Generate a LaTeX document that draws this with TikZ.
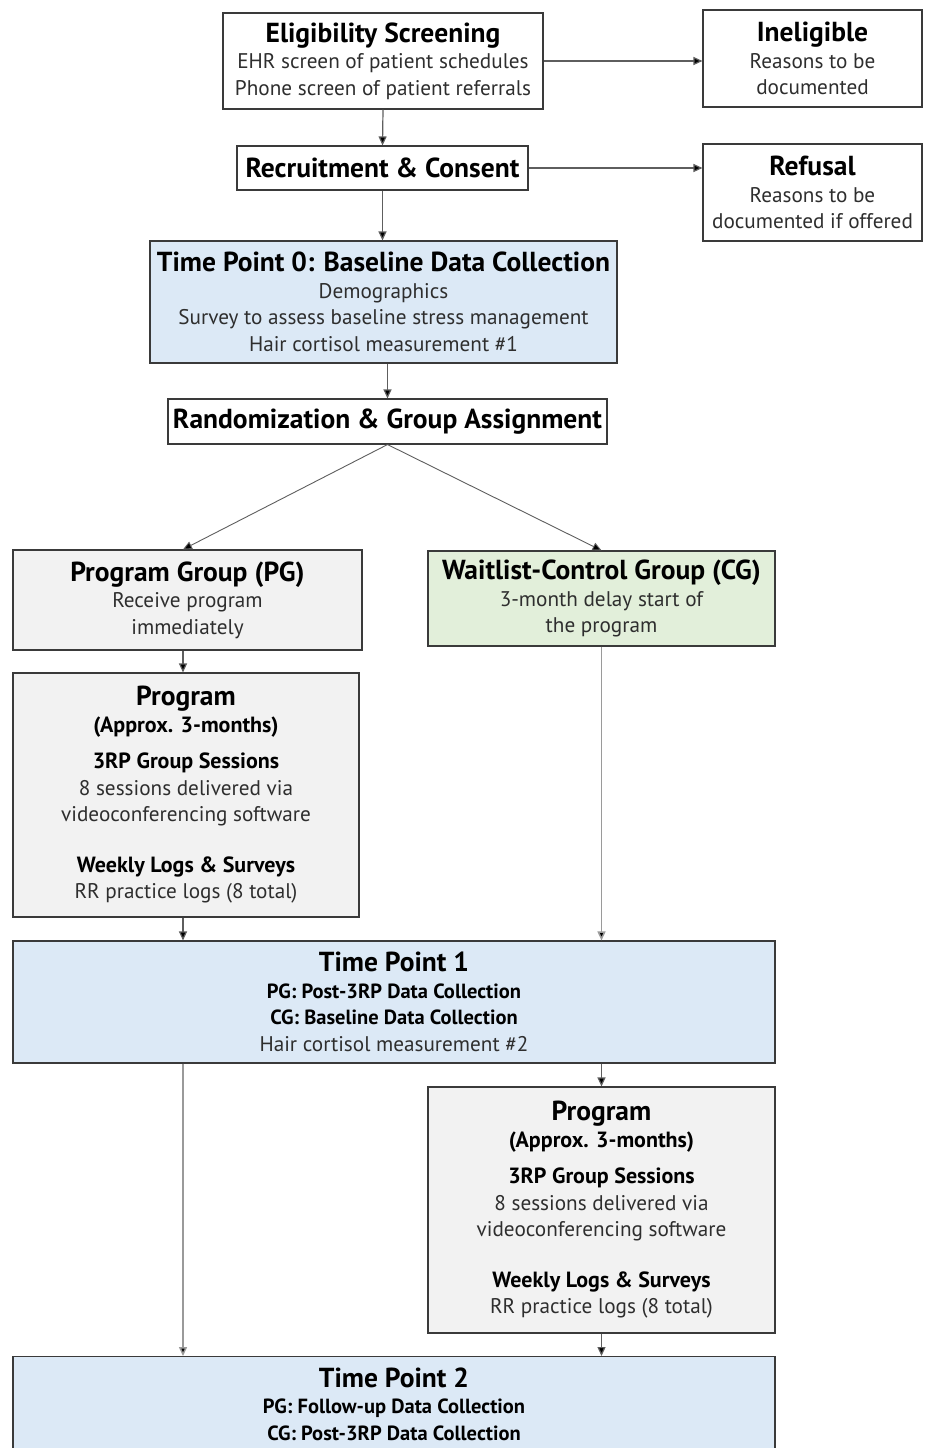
\documentclass[tikz,border=0pt]{standalone}
\usepackage{fontspec}
\setmainfont{PT Sans}
\usetikzlibrary{arrows.meta,calc}
\definecolor{bluefill}{HTML}{DCE9F6}
\definecolor{greyfill}{HTML}{F2F2F2}
\definecolor{greenfill}{HTML}{E2EFDA}
\definecolor{boxline}{HTML}{3A3A3A}
\definecolor{bodytext}{HTML}{2E2E2E}
\definecolor{lightline}{HTML}{9A9A9A}
\definecolor{midline}{HTML}{5E5E5E}
\newcommand{\ttl}[1]{{\fontsize{27.5}{27}\selectfont\bfseries\color{black}#1}}
\newcommand{\sub}[1]{{\fontsize{22}{27}\selectfont\bfseries\color{black}#1}}
\newcommand{\subn}[1]{{\fontsize{20.5}{27}\selectfont\bfseries\color{black}#1}}
\begin{document}
\begin{tikzpicture}[x=1pt,y=-1pt,
  box/.style={draw=boxline, line width=1.1pt, align=center, inner sep=0pt,
    font=\fontsize{21.2}{26.5}\selectfont\color{bodytext}},
  conn/.style={draw=midline, line width=1.2pt, -{Triangle[length=9pt,width=8pt,fill=black]}},
  lconn/.style={draw=lightline, line width=1.5pt, -{Triangle[length=9pt,width=8pt,fill=black]}},
  dline/.style={draw=midline, line width=0.9pt, -{Triangle[length=9pt,width=8pt,fill=black]}}]
\useasboundingbox (0,0) rectangle (924,1448);
\clip (0,0) rectangle (924,1448);
\fill[white] (0,0) rectangle (924,1448);

\node[box, minimum width=320pt, minimum height=96pt] (elig) at (383,61)
  {\ttl{Eligibility Screening}\\EHR screen of patient schedules\\Phone screen of patient referrals};
\node[box, minimum width=219pt, minimum height=97pt] (inel) at (812.5,58.5)
  {\ttl{Ineligible}\\Reasons to be\\documented};
\node[box, minimum width=291pt, minimum height=44pt] (recr) at (382.5,168)
  {\ttl{Recruitment \& Consent}};
\node[box, minimum width=219pt, minimum height=97pt] (refu) at (812.5,192.5)
  {\ttl{Refusal}\\Reasons to be\\documented if offered};
\node[box, fill=bluefill, minimum width=467pt, minimum height=122pt] (tp0) at (383.5,302)
  {\ttl{Time Point 0: Baseline Data Collection}\\Demographics\\Survey to assess baseline stress management\\Hair cortisol measurement \#1};
\node[box, minimum width=439pt, minimum height=45pt] (rand) at (387.5,421.5)
  {\ttl{Randomization \& Group Assignment}};
\node[box, fill=greyfill, minimum width=349pt, minimum height=100pt] (pg) at (187.5,600)
  {\ttl{Program Group (PG)}\\Receive program\\immediately};
\node[box, fill=greenfill, minimum width=347pt, minimum height=95pt] (cg) at (601.5,598.5)
  {\ttl{Waitlist-Control Group (CG)}\\3-month delay start of\\the program};
\node[box, fill=greyfill, minimum width=346pt, minimum height=244pt] (prog1) at (186,795)
  {\ttl{Program}\\\sub{(Approx. 3-months)}\\[10pt]\sub{3RP Group Sessions}\\8 sessions delivered via\\videoconferencing software\\[24pt]\sub{Weekly Logs \& Surveys}\\RR practice logs (8 total)};
\node[box, fill=bluefill, minimum width=762pt, minimum height=122pt] (tp1) at (394,1002)
  {\ttl{Time Point 1}\\\subn{PG: Post-3RP Data Collection}\\\subn{CG: Baseline Data Collection}\\Hair cortisol measurement \#2};
\node[box, fill=greyfill, minimum width=347pt, minimum height=246pt] (prog2) at (601.5,1210)
  {\ttl{Program}\\\sub{(Approx. 3-months)}\\[10pt]\sub{3RP Group Sessions}\\8 sessions delivered via\\videoconferencing software\\[24pt]\sub{Weekly Logs \& Surveys}\\RR practice logs (8 total)};
\node[box, fill=bluefill, minimum width=762pt, anchor=north, inner ysep=11pt] (tp2) at (394,1356)
  {\ttl{Time Point 2}\\\subn{PG: Follow-up Data Collection}\\\subn{CG: Post-3RP Data Collection}};

\coordinate (lx) at ($(pg.south)+(-4.5,0)$);

\draw[conn] (elig.east) -- (elig.east -| inel.west);
\draw[conn] (recr.east) -- (recr.east -| refu.west);
\draw[conn] (elig.south) -- (recr.north);
\draw[conn] (recr.south) -- (recr.south |- tp0.north);
\draw[conn] (rand.north |- tp0.south) -- (rand.north);
\draw[dline] (rand.south) -- (lx |- pg.north);
\draw[dline] (rand.south) -- (cg.north);
\draw[conn] (lx) -- (lx |- prog1.north);
\draw[conn] (lx |- prog1.south) -- (lx |- tp1.north);
\draw[lconn] (cg.south) -- (cg.south |- tp1.north);
\draw[conn] (cg.south |- tp1.south) -- (prog2.north);
\draw[lconn] (lx |- tp1.south) -- (lx |- tp2.north);
\draw[conn] (prog2.south) -- (prog2.south |- tp2.north);
\end{tikzpicture}
\end{document}
